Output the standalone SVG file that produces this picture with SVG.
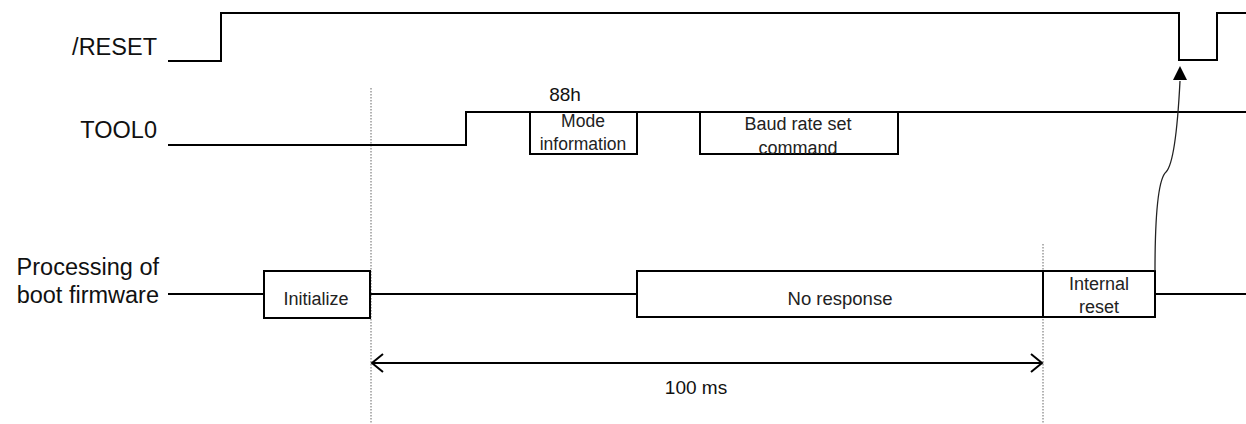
<svg xmlns="http://www.w3.org/2000/svg" width="1246" height="424" viewBox="0 0 1246 424">
<defs>
<style>
.sig{fill:none;stroke:#000;stroke-width:2}
.box{fill:#fff;stroke:#000;stroke-width:2}
.dot{fill:none;stroke:#666;stroke-width:1;stroke-dasharray:1.5 1.5}
.lbl{font-family:"Liberation Sans",Arial,sans-serif;font-size:23.5px;fill:#111;text-anchor:end}
.t{font-family:"Liberation Sans",Arial,sans-serif;font-size:18px;fill:#222;text-anchor:middle}
</style>
</defs>
<rect width="1246" height="424" fill="#fff"/>

<g id="labels">
<text class="lbl" x="157" y="55">/RESET</text>
<text class="lbl" x="157" y="138">TOOL0</text>
<text class="lbl" x="159" y="275">Processing of</text>
<text class="lbl" x="159" y="303">boot firmware</text>
</g>

<g id="guides">
<line class="dot" x1="371" y1="88" x2="371" y2="424"/>
<line class="dot" x1="1043" y1="244" x2="1043" y2="424"/>
</g>

<g id="reset-signal">
<polyline class="sig" points="168,61 221,61 221,13 1179,13 1179,60 1217,60 1217,13 1246,13"/>
</g>

<g id="tool0-signal">
<polyline class="sig" points="168,145 466,145 466,112 1246,112"/>
</g>

<g id="node-mode">
<rect class="box" x="530" y="112" width="107" height="42"/>
<text class="t" x="583" y="127" style="font-size:17.5px">Mode</text>
<text class="t" x="583" y="150" style="font-size:17.5px">information</text>
<text class="t" x="565" y="101" style="font-size:19px;fill:#111">88h</text>
</g>

<g id="node-baud">
<rect class="box" x="700" y="112" width="198" height="42"/>
<text class="t" x="798" y="130">Baud rate set</text>
<text class="t" x="798" y="154">command</text>
</g>

<g id="boot-signal">
<line class="sig" x1="168" y1="294" x2="264" y2="294"/>
<line class="sig" x1="370" y1="294" x2="637" y2="294"/>
<line class="sig" x1="1155" y1="294" x2="1246" y2="294"/>
</g>

<g id="node-initialize">
<rect class="box" x="264" y="271" width="106" height="47"/>
<text class="t" x="316" y="305">Initialize</text>
</g>

<g id="node-noresponse">
<rect class="box" x="637" y="271" width="406" height="46"/>
<text class="t" x="840" y="305" style="font-size:18.5px">No response</text>
</g>

<g id="node-internalreset">
<rect class="box" x="1043" y="271" width="112" height="46"/>
<text class="t" x="1099" y="290">Internal</text>
<text class="t" x="1099" y="313">reset</text>
</g>

<g id="connectors">
<path d="M1155,271 C1155,230 1157,180 1166,172 C1172,166 1177,140 1180,81" fill="none" stroke="#222" stroke-width="1.3"/>
<polygon points="1180,66 1187,80 1173,80" fill="#000"/>
<line class="sig" x1="372" y1="363" x2="1042" y2="363"/>
<polyline class="sig" points="383,354 372,363 383,372"/>
<polyline class="sig" points="1031,354 1042,363 1031,372"/>
<text class="t" x="696" y="394" style="font-size:19px;fill:#111">100 ms</text>
</g>
</svg>
